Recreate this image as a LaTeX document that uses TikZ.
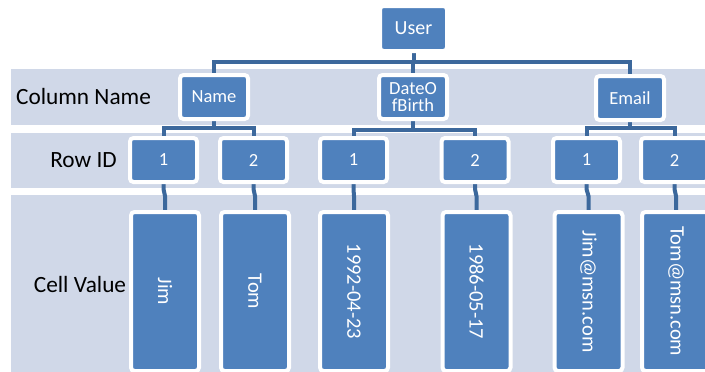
\documentclass[tikz,border=0pt]{standalone}
\usepackage{fontspec}
\usepackage{graphicx}
\setmainfont{Carlito}
\definecolor{band}{RGB}{208,216,232}
\definecolor{boxblue}{RGB}{79,129,189}
\definecolor{wireblue}{RGB}{60,104,156}
\pgfdeclarelayer{bands}
\pgfdeclarelayer{wires}
\pgfsetlayers{bands,wires,main}
\begin{document}
\begin{tikzpicture}[x=1pt,y=-1pt,
  box/.style={fill=boxblue, draw=white, line width=4pt, rounded corners=3.5pt,
    text=white, inner sep=0pt, align=center, font=\fontsize{18.5}{17.5}\selectfont},
  topbox/.style={box, minimum width=67pt, minimum height=45pt, font=\fontsize{20}{20}\selectfont},
  colbox/.style={box, minimum width=68pt, minimum height=44pt},
  rowbox/.style={box, minimum width=67pt, minimum height=44pt},
  cellbox/.style={box, minimum width=68pt, minimum height=159pt, font=\fontsize{20.5}{20}\selectfont},
  link/.style={draw=wireblue, line width=4pt},
  lbl/.style={font=\fontsize{23.3}{24}\selectfont, anchor=base, text=black, inner sep=0pt},
]
\useasboundingbox (0,0) rectangle (705,372);

% level bands
\begin{pgfonlayer}{bands}
  \fill[band] (11,69)  rectangle (705,125);
  \fill[band] (11,133) rectangle (705,188);
  \fill[band] (11,195) rectangle (705,372);
\end{pgfonlayer}

% row labels
\node[lbl] (lcol)  at (83.5,104) {Column Name};
\node[lbl] (lrow)  at (83.5,167) {Row ID};
\node[lbl] (lcell) at (80,292)   {Cell Value};

% root
\node[topbox] (user) at (413.5,28.5) {User};

% column names
\node[colbox] (name)  at (214,97) {Name};
\node[colbox] (dob)   at (413,97)   {DateO\\fBirth};
\node[colbox] (email) at (630,98)   {Email};

% row ids
\node[rowbox] (n1) at (163.5,160) {1};
\node[rowbox] (n2) at (253.5,160) {2};
\node[rowbox] (d1) at (353.5,160) {1};
\node[rowbox] (d2) at (475,160)   {2};
\node[rowbox] (e1) at (586.5,160) {1};
\node[rowbox] (e2) at (674.5,160) {2};

% cell values
\node[cellbox] (c1) at (165,291.5)   {\rotatebox{-90}{Jim}};
\node[cellbox] (c2) at (255,291.5)   {\rotatebox{-90}{Tom}};
\node[cellbox] (c3) at (354,291.5)   {\rotatebox{-90}{1992-04-23}};
\node[cellbox] (c4) at (476.5,291.5) {\rotatebox{-90}{1986-05-17}};
\node[cellbox] (c5) at (588.5,291.5) {\rotatebox{-90}{Jim@msn.com}};
\node[cellbox] (c6) at (676,291.5)   {\rotatebox{-90}{Tom@msn.com}};

% connectors
\begin{pgfonlayer}{wires}
  \coordinate (bus0) at (0,62);
  \foreach \c in {name,dob,email}
    \draw[link] (user.south) -- (user.south |- bus0) -- (\c.north |- bus0) -- (\c.north);
  \coordinate (bus1) at (0,128);
  \coordinate (bus2) at (0,130);
  \foreach \p/\c in {name/n1,name/n2,email/e1,email/e2}
    \draw[link] (\p.south) -- (\p.south |- bus1) -- (\c.north |- bus1) -- (\c.north);
  \foreach \c in {d1,d2}
    \draw[link] (dob.south) -- (dob.south |- bus2) -- (\c.north |- bus2) -- (\c.north);
  \coordinate (gapa) at (0,189);
  \coordinate (gapb) at (0,196);
  \foreach \r/\c in {n1/c1,n2/c2,d1/c3,d2/c4,e1/c5,e2/c6}
    \draw[link] (\r.south) -- (\r.south |- gapa) -- (\c.north |- gapb) -- (\c.north);
\end{pgfonlayer}
\end{tikzpicture}
\end{document}
